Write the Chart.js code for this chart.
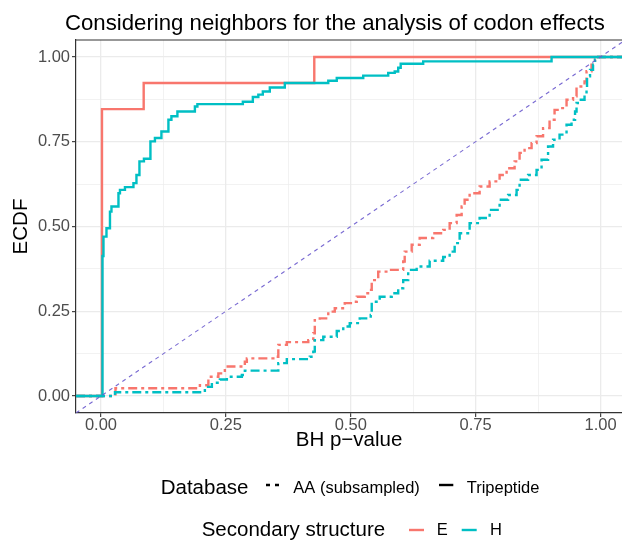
<!DOCTYPE html>
<html>
<head>
<meta charset="utf-8">
<script src="https://cdn.jsdelivr.net/npm/chart.js@4.4.1/dist/chart.umd.min.js"></script>
<style>
  html, body { margin: 0; padding: 0; background: #ffffff; }
  #wrap { width: 622px; height: 541px; }
</style>
</head>
<body>
<div id="wrap"><canvas id="ecdf" width="622" height="541"></canvas></div>
<script>
// ECDF dos p-valores (BH) — estilo ggplot theme_bw

const RED = '#F8766D';
const TEAL = '#00BFC4';
const FONT = "'Liberation Sans', Arial, Helvetica, sans-serif";

// eixo: grade principal + secundária
const gridTicks = [0, 0.125, 0.25, 0.375, 0.5, 0.625, 0.75, 0.875, 1];
const majorTicks = [0, 0.25, 0.5, 0.75, 1];
const majorLabels = ['0.00', '0.25', '0.50', '0.75', '1.00'];

// Tripeptide, E
const eTriX = [-0.05, 0.002, 0.0855, 0.427, 1.05];
const eTriY = [0, 0.846, 0.923, 1, 1];

// Tripeptide, H
const hTriX = [-0.05, 0.003, 0.005, 0.011, 0.018, 0.021, 0.035, 0.038, 0.048, 0.065, 0.071, 0.077, 0.086,
    0.099, 0.108, 0.121, 0.135, 0.141, 0.153, 0.188, 0.193, 0.284, 0.304, 0.315, 0.324, 0.338, 0.368,
    0.455, 0.472, 0.525, 0.575, 0.588, 0.595, 0.600, 0.645, 0.902, 1.05];
const hTriY = [0, 0.413, 0.47, 0.495, 0.544, 0.559, 0.598, 0.608, 0.616, 0.628, 0.652, 0.692, 0.7,
    0.751, 0.761, 0.78, 0.815, 0.825, 0.839, 0.854, 0.861, 0.868, 0.882, 0.889, 0.898, 0.91, 0.923,
    0.93, 0.938, 0.945, 0.953, 0.957, 0.968, 0.98, 0.987, 1, 1];

// AA (subsampled), E
const eAaX = [-0.05, 0.029, 0.198, 0.215, 0.235, 0.248, 0.288, 0.292, 0.345, 0.355, 0.372, 0.415, 0.425,
    0.428, 0.438, 0.455, 0.468, 0.488, 0.505, 0.512, 0.528, 0.538, 0.542, 0.555, 0.578, 0.605, 0.608,
    0.622, 0.638, 0.665, 0.685, 0.698, 0.712, 0.722, 0.728, 0.738, 0.758, 0.778, 0.798, 0.812, 0.828,
    0.838, 0.848, 0.862, 0.872, 0.885, 0.898, 0.908, 0.918, 0.932, 0.945, 0.952, 0.968, 0.972, 0.982,
    0.989, 0.992, 1.05];
const eAaY = [0, 0.023, 0.032, 0.057, 0.067, 0.087, 0.101, 0.111, 0.116, 0.151, 0.159, 0.165, 0.185,
    0.224, 0.229, 0.249, 0.259, 0.274, 0.278, 0.293, 0.303, 0.313, 0.342, 0.367, 0.372, 0.397, 0.426,
    0.446, 0.466, 0.48, 0.49, 0.51, 0.534, 0.559, 0.579, 0.598, 0.618, 0.633, 0.652, 0.672, 0.692,
    0.717, 0.731, 0.746, 0.766, 0.79, 0.815, 0.844, 0.849, 0.874, 0.884, 0.913, 0.928, 0.958, 0.977,
    0.992, 1, 1];

// AA (subsampled), H
const hAaX = [-0.05, 0.028, 0.208, 0.222, 0.238, 0.252, 0.282, 0.288, 0.355, 0.372, 0.418, 0.425, 0.428,
    0.445, 0.472, 0.485, 0.498, 0.518, 0.540, 0.542, 0.558, 0.582, 0.595, 0.605, 0.615, 0.632, 0.658,
    0.685, 0.698, 0.708, 0.718, 0.738, 0.758, 0.778, 0.798, 0.815, 0.832, 0.838, 0.855, 0.872, 0.882,
    0.895, 0.905, 0.918, 0.932, 0.942, 0.949, 0.952, 0.958, 0.968, 0.972, 0.973, 0.979, 0.985, 0.989,
    0.991, 1.05];
const hAaY = [0, 0.011, 0.027, 0.039, 0.049, 0.057, 0.062, 0.075, 0.097, 0.109, 0.116, 0.131, 0.165,
    0.175, 0.192, 0.205, 0.215, 0.229, 0.239, 0.278, 0.293, 0.303, 0.318, 0.342, 0.372, 0.382, 0.399,
    0.41, 0.426, 0.451, 0.48, 0.51, 0.525, 0.549, 0.579, 0.593, 0.608, 0.638, 0.652, 0.667, 0.697,
    0.736, 0.756, 0.771, 0.8, 0.815, 0.839, 0.864, 0.874, 0.889, 0.903, 0.943, 0.962, 0.977, 0.992,
    1, 1];

// referência y = x
const diagX = [-0.05, 1.05];
const diagY = [-0.05, 1.05];

const toPoints = (xs, ys) => xs.map((x, i) => ({ x, y: ys[i] }));

function stepSet(label, xs, ys, color, dash) {
    return {
        label,
        data: toPoints(xs, ys),
        borderColor: color,
        borderWidth: 2.4,
        borderDash: dash,
        borderCapStyle: 'butt',
        borderJoinStyle: 'miter',
        stepped: 'before',
        pointRadius: 0,
        fill: false,
    };
}

const AA_DASH = [9, 4, 3, 4];

/** Título, borda do painel e legendas à moda do ggplot. */
const ggDecor = {
    id: 'ggDecor',
    afterDatasetsDraw(chart) {
        const { ctx, chartArea: a } = chart;
        ctx.save();
        ctx.strokeStyle = '#333333';
        ctx.lineWidth = 1.2;
        ctx.beginPath();
        ctx.moveTo(a.left, a.top);
        ctx.lineTo(chart.width, a.top);
        ctx.stroke();
        ctx.restore();
    },
    afterDraw(chart) {
        const { ctx } = chart;
        ctx.save();
        ctx.fillStyle = '#000000';
        ctx.textBaseline = 'alphabetic';
        ctx.textAlign = 'left';

        ctx.font = `22.2px ${FONT}`;
        ctx.fillText('Considering neighbors for the analysis of codon effects', 65, 29.5);

        // linha 1: Database
        ctx.font = `20.5px ${FONT}`;
        ctx.fillText('Database', 160.7, 494);
        ctx.font = `16.5px ${FONT}`;
        ctx.fillText('AA (subsampled)', 293.3, 493);
        ctx.fillText('Tripeptide', 466.7, 493);

        ctx.lineWidth = 2.4;
        ctx.strokeStyle = '#000000';
        ctx.setLineDash([4, 5]);
        ctx.beginPath();
        ctx.moveTo(266, 485);
        ctx.lineTo(280, 485);
        ctx.stroke();
        ctx.setLineDash([]);
        ctx.beginPath();
        ctx.moveTo(439, 485);
        ctx.lineTo(453.3, 485);
        ctx.stroke();

        // linha 2: Secondary structure
        ctx.font = `20.5px ${FONT}`;
        ctx.fillText('Secondary structure', 201.7, 536);
        ctx.font = `16.5px ${FONT}`;
        ctx.fillText('E', 436.7, 535);
        ctx.fillText('H', 490, 535);

        ctx.strokeStyle = RED;
        ctx.beginPath();
        ctx.moveTo(409, 530);
        ctx.lineTo(424, 530);
        ctx.stroke();
        ctx.strokeStyle = TEAL;
        ctx.beginPath();
        ctx.moveTo(461.7, 530);
        ctx.lineTo(476.7, 530);
        ctx.stroke();
        ctx.restore();
    },
};

const isMajor = (v) => majorTicks.some((m) => Math.abs(m - v) < 1e-6);
const labelFor = (v) => {
    const i = majorTicks.findIndex((m) => Math.abs(m - v) < 1e-6);
    return i >= 0 ? majorLabels[i] : '';
};

function axis(extra, pad) {
    return Object.assign({
        type: 'linear',
        afterBuildTicks: (scale) => {
            scale.ticks = gridTicks.map((v) => ({ value: v }));
        },
        grid: {
            color: '#EBEBEB',
            lineWidth: (c) => (isMajor(c.tick.value) ? 1.3 : 0.65),
            tickColor: (c) => (isMajor(c.tick.value) ? '#333333' : 'rgba(0,0,0,0)'),
            tickWidth: 1.1,
            tickLength: 4,
            drawTicks: true,
        },
        border: { display: true, color: '#333333', width: 1.2 },
        ticks: {
            autoSkip: false,
            maxRotation: 0,
            minRotation: 0,
            padding: pad,
            color: '#4D4D4D',
            font: { family: FONT, size: 16.5 },
            callback: (v) => labelFor(v),
        },
    }, extra);
}

const ctx = document.getElementById('ecdf').getContext('2d');
new Chart(ctx, {
    type: 'line',
    data: {
        datasets: [
            {
                label: 'y = x',
                data: toPoints(diagX, diagY),
                borderColor: 'rgba(106, 90, 205, 0.9)',
                borderWidth: 1.1,
                borderDash: [4, 4],
                pointRadius: 0,
                fill: false,
            },
            stepSet('H Tripeptide', hTriX, hTriY, TEAL, []),
            stepSet('H AA (subsampled)', hAaX, hAaY, TEAL, AA_DASH),
            stepSet('E Tripeptide', eTriX, eTriY, RED, []),
            stepSet('E AA (subsampled)', eAaX, eAaY, RED, AA_DASH),
        ],
    },
    options: {
        responsive: false,
        animation: false,
        events: [],
        layout: { padding: { top: 40, right: 0, bottom: 0, left: 0 } },
        plugins: {
            legend: { display: false },
            title: { display: false },
            tooltip: { enabled: false },
        },
        scales: {
            x: axis({
                min: -0.05,
                max: 1.043,
                afterFit: (scale) => { scale.height = 128; },
                title: {
                    display: true,
                    text: 'BH p\u2212value',
                    color: '#000000',
                    font: { family: FONT, size: 20.5, lineHeight: 1.2 },
                    padding: { top: 0, bottom: 88 },
                },
            }, -1),
            y: axis({
                min: -0.05,
                max: 1.05,
                afterFit: (scale) => { scale.width = 76; },
                title: {
                    display: true,
                    text: 'ECDF',
                    color: '#000000',
                    font: { family: FONT, size: 20.5, lineHeight: 1.2 },
                    padding: { top: 8.7, bottom: 0 },
                },
            }, 2),
        },
    },
    plugins: [ggDecor],
});
</script>
</body>
</html>
